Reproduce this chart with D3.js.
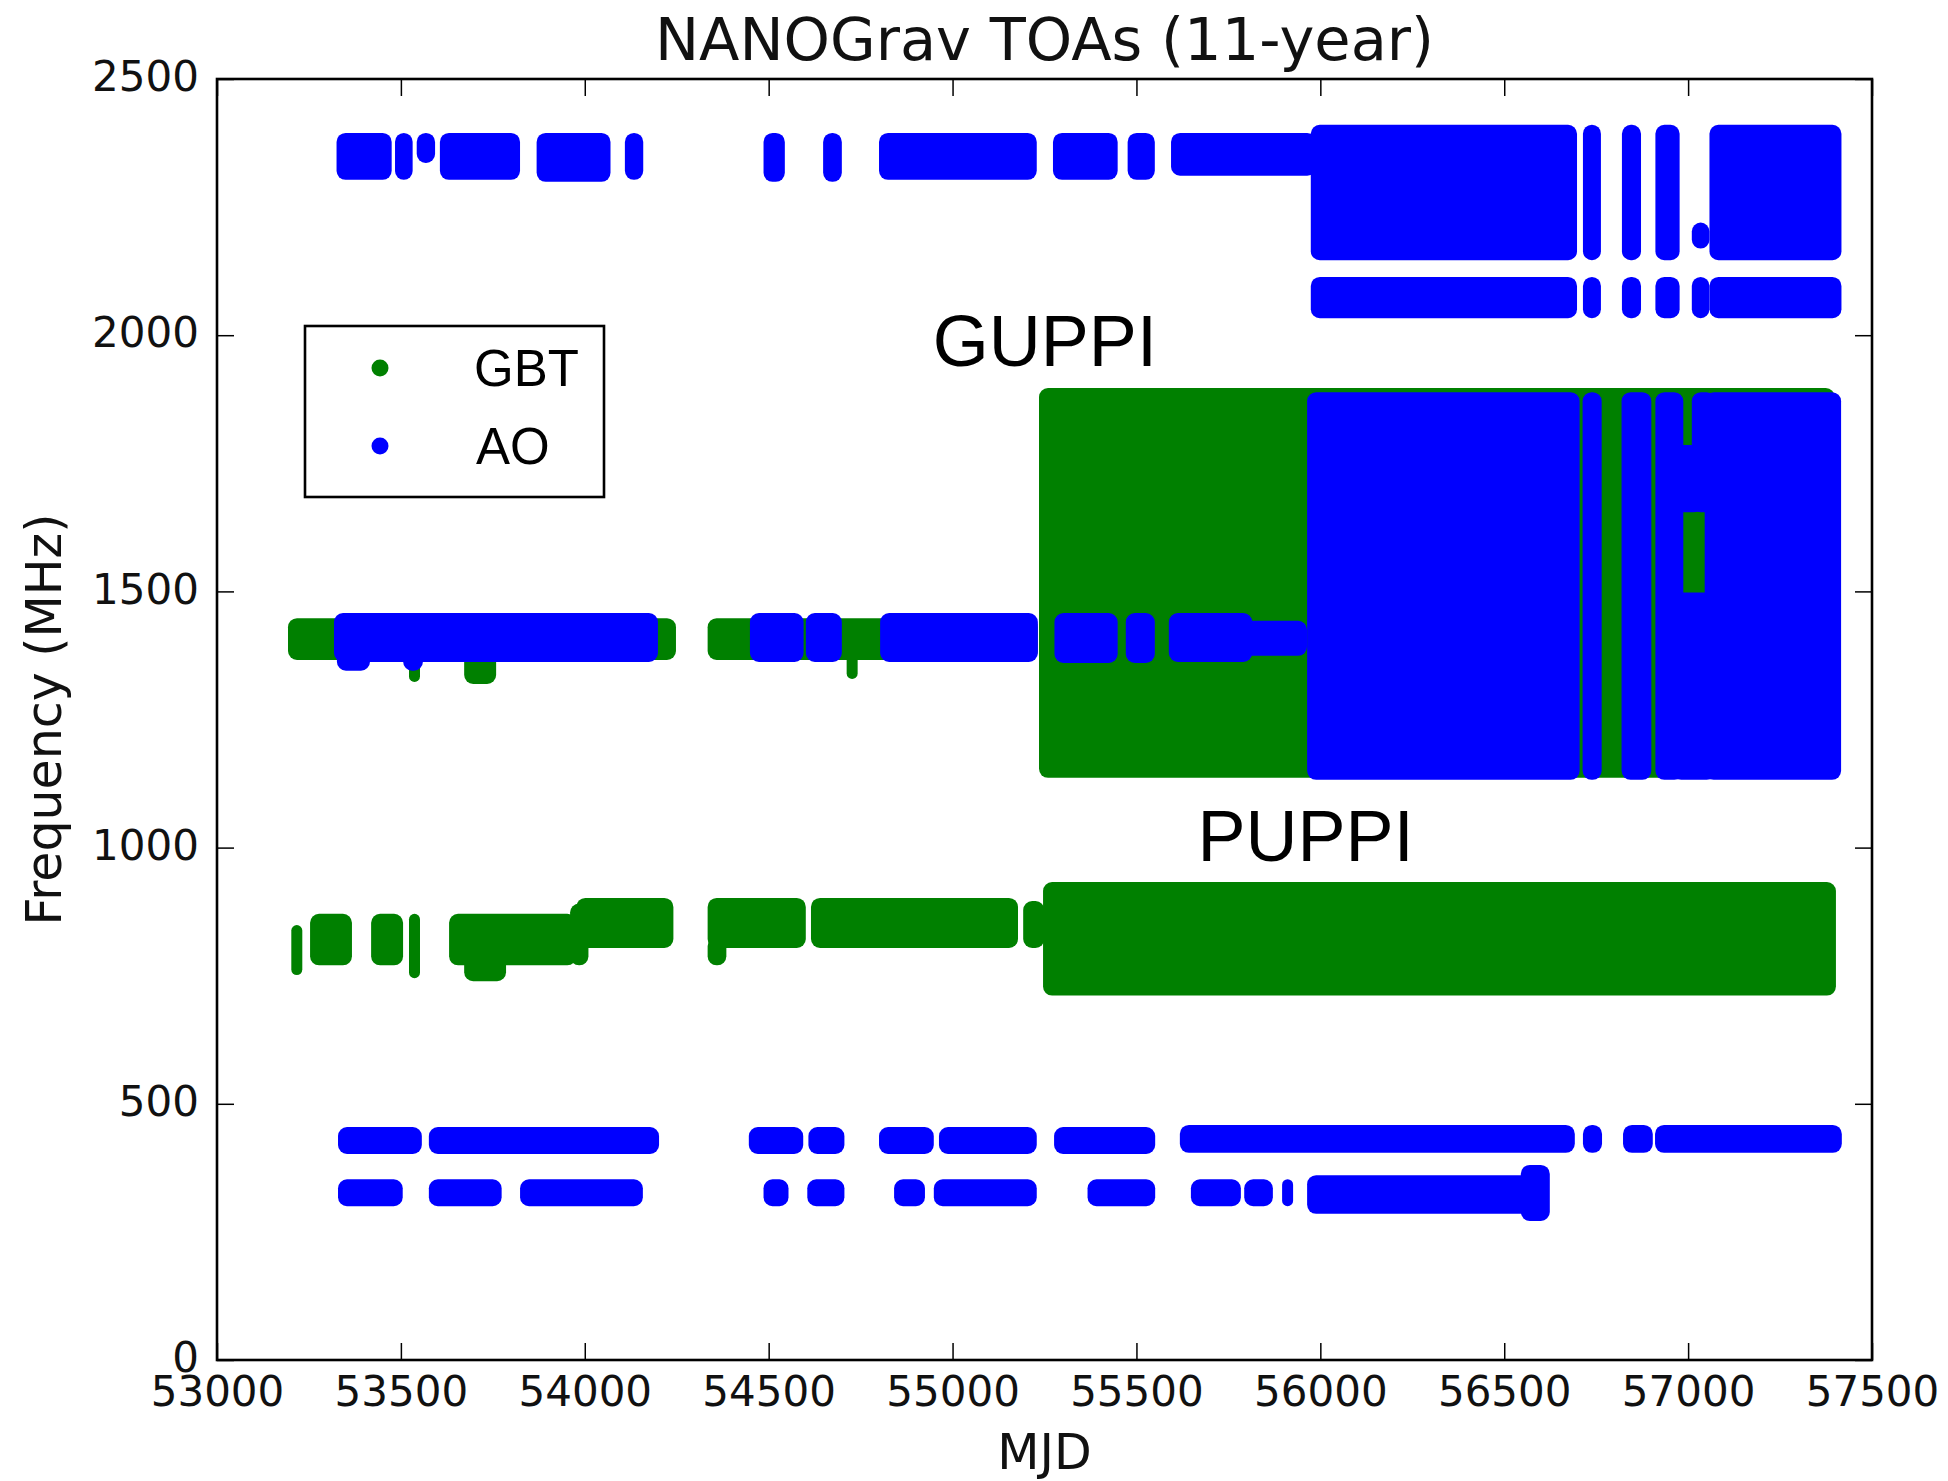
<!DOCTYPE html>
<html>
<head>
<meta charset="utf-8">
<script src="https://cdn.jsdelivr.net/npm/d3@7"></script>
<style>
  html, body { margin: 0; padding: 0; background: #ffffff; }
  svg { display: block; }
</style>
</head>
<body>
<script>
// ---------------- data (MJD range of epochs, frequency range in MHz) ----------------
// each entry: [mjdStart, mjdEnd, freqLow, freqHigh]
const gbt800 = [
  [53217, 53217, 762, 838],
  [53268, 53352, 781, 860],
  [53434, 53491, 781, 860],
  [53537, 53537, 756, 860],
  [53646, 53962, 781, 860],
  [53687, 53771, 750, 800],
  [53975, 53995, 781, 880],
  [53992, 54226, 815, 891],
  [54349, 54586, 815, 891],
  [54349, 54370, 781, 815],
  [54630, 55163, 815, 891],
  [55207, 55235, 815, 885],
  [55261, 57387, 722, 922]
];
const gbtL = [
  [53208, 54233, 1377, 1437],
  [53537, 53537, 1334, 1377],
  [53687, 53744, 1330, 1377],
  [54349, 55217, 1377, 1437],
  [54727, 54727, 1340, 1377],
  [55250, 57384, 1147, 1886]
];
const aoL = [
  [53333, 54184, 1373, 1447],
  [53341, 53401, 1356, 1373],
  [53521, 53545, 1356, 1373],
  [54464, 54580, 1373, 1447],
  [54616, 54684, 1373, 1447],
  [54818, 55217, 1373, 1447],
  [55292, 55434, 1371, 1447],
  [55486, 55535, 1371, 1447],
  [55603, 55800, 1373, 1447],
  [55800, 55949, 1385, 1432],
  [55979, 56690, 1143, 1878],
  [56728, 56750, 1143, 1878],
  [56834, 56885, 1143, 1878],
  [56926, 56972, 1143, 1878],
  [56972, 57060, 1143, 1487],
  [56972, 57025, 1665, 1775],
  [57025, 57060, 1665, 1878],
  [57060, 57401, 1143, 1878]
];
const aoS = [
  [53340, 53460, 2314, 2384],
  [53499, 53517, 2314, 2384],
  [53558, 53578, 2347, 2384],
  [53621, 53809, 2314, 2384],
  [53884, 54055, 2310, 2384],
  [54124, 54144, 2314, 2384],
  [54501, 54529, 2310, 2384],
  [54663, 54684, 2310, 2384],
  [54815, 55214, 2314, 2384],
  [55288, 55434, 2314, 2384],
  [55491, 55535, 2314, 2384],
  [55609, 55974, 2322, 2384],
  [55989, 56683, 2157, 2400],
  [56729, 56748, 2157, 2400],
  [56835, 56857, 2157, 2400],
  [56926, 56962, 2157, 2400],
  [57025, 57043, 2180, 2209],
  [57073, 57402, 2157, 2400],
  [55989, 56683, 2044, 2103],
  [56729, 56748, 2044, 2103],
  [56835, 56857, 2044, 2103],
  [56926, 56962, 2044, 2103],
  [57025, 57043, 2044, 2103],
  [57073, 57402, 2044, 2103]
];
const ao430 = [
  [53344, 53542, 413, 444],
  [53591, 54187, 413, 444],
  [54461, 54579, 413, 444],
  [54623, 54691, 413, 444],
  [54815, 54934, 413, 444],
  [54978, 55214, 413, 444],
  [55291, 55536, 413, 444],
  [55633, 56677, 415, 448],
  [56729, 56751, 415, 448],
  [56838, 56889, 415, 448],
  [56925, 57403, 415, 448]
];
const ao327 = [
  [53344, 53490, 311, 342],
  [53591, 53759, 311, 342],
  [53839, 54143, 311, 342],
  [54501, 54539, 311, 342],
  [54620, 54691, 311, 342],
  [54856, 54910, 311, 342],
  [54964, 55214, 311, 342],
  [55382, 55536, 311, 342],
  [55663, 55769, 311, 342],
  [55808, 55856, 311, 342],
  [55911, 55911, 311, 342],
  [55979, 56560, 296, 350],
  [56560, 56609, 282, 370]
];

const xTicks = [53000, 53500, 54000, 54500, 55000, 55500, 56000, 56500, 57000, 57500];
const yTicks = [0, 500, 1000, 1500, 2000, 2500];
const seriesNames = ["GBT", "AO"];
const seriesColors = ["#008000", "#0000ff"];
const titleText = "NANOGrav TOAs (11-year)";
const xLabel = "MJD";
const yLabel = "Frequency (MHz)";
const notes = [{ text: "GUPPI", mjd: 55251, freq: 1940 }, { text: "PUPPI", mjd: 55960, freq: 974 }];

// ---------------- layout ----------------
const W = 1948, H = 1481;
const L = 217, R = 1872, T = 79, B = 1360;
const MR = 5.5; // marker radius (px)

const svg = d3.select("body").append("svg").attr("width", W).attr("height", H);
svg.append("rect").attr("width", W).attr("height", H).attr("fill", "#fff");

const x = d3.scaleLinear().domain([53000, 57500]).range([L, R]);
const y = d3.scaleLinear().domain([0, 2500]).range([B, T]);

const plot = svg.append("g");
plot.append("clipPath").attr("id", "clip").append("rect")
  .attr("x", L).attr("y", T).attr("width", R - L).attr("height", B - T);
const marks = plot.append("g").attr("clip-path", "url(#clip)");

function drawSet(data, color) {
  marks.append("g").selectAll("rect").data(data).join("rect")
    .attr("x", d => x(d[0]) - MR)
    .attr("width", d => x(d[1]) - x(d[0]) + 2 * MR)
    .attr("y", d => y(d[3]) - MR)
    .attr("height", d => y(d[2]) - y(d[3]) + 2 * MR)
    .attr("rx", d => Math.min(9, (x(d[1]) - x(d[0]) + 2 * MR) / 2, (y(d[2]) - y(d[3]) + 2 * MR) / 2))
    .attr("fill", color);
}
drawSet(gbt800, seriesColors[0]);
drawSet(gbtL, seriesColors[0]);
drawSet(aoL, seriesColors[1]);
drawSet(aoS, seriesColors[1]);
drawSet(ao430, seriesColors[1]);
drawSet(ao327, seriesColors[1]);

// ---------------- axes ----------------
const tickFont = "'DejaVu Sans', sans-serif";
const tickLen = 17;
const axB = svg.append("g").attr("transform", `translate(0,${B})`)
  .call(d3.axisBottom(x).tickValues(xTicks).tickSizeInner(-tickLen).tickSizeOuter(0).tickPadding(16).tickFormat(d3.format("d")));
const axT = svg.append("g").attr("transform", `translate(0,${T})`)
  .call(d3.axisTop(x).tickValues(xTicks).tickSizeInner(-tickLen).tickSizeOuter(0).tickFormat(""));
const axL = svg.append("g").attr("transform", `translate(${L},0)`)
  .call(d3.axisLeft(y).tickValues(yTicks).tickSizeInner(-tickLen).tickSizeOuter(0).tickPadding(18).tickFormat(d3.format("d")));
const axR = svg.append("g").attr("transform", `translate(${R},0)`)
  .call(d3.axisRight(y).tickValues(yTicks).tickSizeInner(-tickLen).tickSizeOuter(0).tickFormat(""));
[axB, axT, axL, axR].forEach(a => {
  a.select(".domain").remove();
  a.selectAll(".tick line").attr("stroke", "#000").attr("stroke-width", 1.5);
  a.selectAll("text").attr("font-family", tickFont).attr("font-size", 42).attr("fill", "#111");
});
axB.selectAll("text").attr("dy", "0.71em");
axL.selectAll("text").attr("dy", "0.28em");

svg.append("rect").attr("x", L).attr("y", T).attr("width", R - L).attr("height", B - T)
  .attr("fill", "none").attr("stroke", "#000").attr("stroke-width", 2.6);

// ---------------- labels ----------------
svg.append("text").attr("x", (L + R) / 2).attr("y", 60).attr("text-anchor", "middle")
  .attr("font-family", tickFont).attr("font-size", 59).attr("fill", "#111").text(titleText);
svg.append("text").attr("x", (L + R) / 2).attr("y", 1469).attr("text-anchor", "middle")
  .attr("font-family", tickFont).attr("font-size", 49).attr("fill", "#111").text(xLabel);
svg.append("text").attr("transform", `translate(61,${(T + B) / 2}) rotate(-90)`).attr("text-anchor", "middle")
  .attr("font-family", tickFont).attr("font-size", 49).attr("fill", "#111").text(yLabel);

// annotations
svg.selectAll("text.note").data(notes).join("text").attr("class", "note")
  .attr("x", d => x(d.mjd)).attr("y", d => y(d.freq)).attr("text-anchor", "middle")
  .attr("font-family", "'Liberation Sans', Arial, sans-serif").attr("font-size", 72).attr("fill", "#000")
  .text(d => d.text);

// ---------------- legend ----------------
const lg = svg.append("g");
lg.append("rect").attr("x", 305).attr("y", 326).attr("width", 299).attr("height", 171)
  .attr("fill", "#fff").attr("stroke", "#000").attr("stroke-width", 2.6);
seriesNames.forEach((n, i) => {
  const cy = 368 + i * 78;
  lg.append("circle").attr("cx", 380).attr("cy", cy).attr("r", 8.5).attr("fill", seriesColors[i]);
  lg.append("text").attr("x", 474 + i * 2).attr("y", cy + 18)
    .attr("font-family", "'Liberation Sans', Arial, sans-serif").attr("font-size", 51).attr("fill", "#000").text(n);
});
</script>
</body>
</html>
